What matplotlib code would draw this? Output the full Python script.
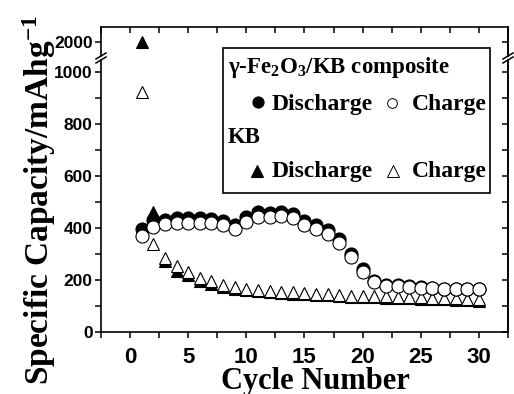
import matplotlib
matplotlib.use('Agg')
import matplotlib.pyplot as plt
from matplotlib.lines import Line2D
from matplotlib.patches import Rectangle
from matplotlib.ticker import MultipleLocator, FixedLocator, NullLocator

plt.rcParams['mathtext.default'] = 'regular'

# data
cycles = [1, 2, 3, 4, 5, 6, 7, 8, 9, 10, 11, 12, 13, 14, 15,
          16, 17, 18, 19, 20, 21, 22, 23, 24, 25, 26, 27, 28, 29, 30]
comp_discharge = [396, 430, 432, 439, 438, 437, 436, 428, 412, 441, 460, 458, 462, 452, 428,
                  411, 391, 356, 300, 243, 198, 180, 179, 176, 173, 170, 166, 166, 166, 166]
comp_charge = [369, 402, 414, 421, 421, 420, 419, 411, 395, 424, 443, 441, 446, 437, 412,
               395, 376, 341, 287, 232, 194, 177, 177, 174, 171, 168, 164, 164, 164, 164]
kb_discharge = [2000, 462, 272, 236, 219, 196, 186, 175, 167, 161, 157, 153, 150, 148, 146,
                143, 141, 138, 135, 134, 133, 132, 131, 130, 128, 127, 126, 125, 123, 121]
kb_charge = [925, 338, 283, 254, 229, 206, 195, 181, 173, 166, 162, 158, 155, 153, 151,
             148, 146, 143, 140, 139, 138, 137, 136, 135, 133, 132, 131, 130, 128, 126]

W, H = 514, 394
serif = ['Liberation Serif', 'DejaVu Serif']
sans = ['Liberation Sans', 'DejaVu Sans']


def fx(px):
    return px / W


def fy(py):
    return 1 - py / H


fig = plt.figure(figsize=(W / 100, H / 100), dpi=100)
left, right = 101, 508
ax = fig.add_axes([fx(left), fy(332), (right - left) / W, (332 - 60) / H])
ax_top = fig.add_axes([fx(left), fy(56), (right - left) / W, (56 - 27) / H], sharex=ax)


def draw(a):
    a.plot(cycles, kb_discharge, ls='none', marker='^', ms=8.6, mfc='black', mec='black', mew=0.8)
    a.plot(cycles, kb_charge, ls='none', marker='^', ms=8.6, mfc='white', mec='black', mew=0.8)
    a.plot(cycles, comp_discharge, ls='none', marker='o', ms=9.4, mfc='black', mec='black', mew=0.8)
    a.plot(cycles, comp_charge, ls='none', marker='o', ms=9.4, mfc='white', mec='black', mew=0.8)


draw(ax)
draw(ax_top)

ax.set_xlim(-2.5, 32.5)
ax.set_ylim(0, (332 - 60) / 0.26)
ax_top.set_ylim(2000 - 14 / 0.26, 2000 + 15 / 0.26)

for a in (ax, ax_top):
    for s in a.spines.values():
        s.set_linewidth(1.2)
ax.spines['top'].set_visible(False)
ax_top.spines['bottom'].set_visible(False)

ax.xaxis.set_major_locator(MultipleLocator(5))
ax.xaxis.set_minor_locator(MultipleLocator(2.5))
ax.yaxis.set_major_locator(MultipleLocator(200))
ax.yaxis.set_minor_locator(MultipleLocator(100))
ax_top.yaxis.set_major_locator(FixedLocator([2000]))
ax_top.yaxis.set_minor_locator(NullLocator())

ax.tick_params(axis='x', which='both', direction='out', length=4, width=1.1,
               top=False, pad=7)
ax.tick_params(axis='y', which='both', direction='out', length=4, width=1.1,
               right=False, pad=2)
ax_top.tick_params(axis='x', which='both', direction='in', length=4, width=1.1,
                   bottom=False, top=True, labelbottom=False)
ax_top.tick_params(axis='y', which='both', direction='out', length=4, width=1.1,
                   right=False, pad=2)

for lab in ax.get_xticklabels():
    lab.set_fontfamily(sans)
    lab.set_fontweight('bold')
    lab.set_fontsize(16)
for a in (ax, ax_top):
    for lab in a.get_yticklabels():
        lab.set_fontfamily(sans)
        lab.set_fontweight('bold')
        lab.set_fontsize(12.5)

# inward ticks on the right side
for a, major in ((ax, MultipleLocator(100)), (ax_top, FixedLocator([2000]))):
    sec = a.secondary_yaxis('right')
    sec.yaxis.set_major_locator(major)
    sec.yaxis.set_minor_locator(NullLocator())
    sec.tick_params(axis='y', direction='in', length=4, width=1.1, labelright=False)
    sec.spines['right'].set_linewidth(1.2)

# break marks
for xb in (left, right):
    for yb in (56, 60):
        fig.add_artist(Line2D([fx(xb - 5), fx(xb + 5)], [fy(yb + 3), fy(yb - 3)],
                              transform=fig.transFigure, color='black', lw=1.1))

# legend box
fig.add_artist(Rectangle((fx(223), fy(193)), (490 - 223) / W, (193 - 48) / H,
                         transform=fig.transFigure, fc='white', ec='black', lw=1.2))
leg_font = dict(fontweight='bold', family=serif, va='baseline')
fig.text(fx(228), fy(73.3), 'γ-Fe$_2$O$_3$/KB composite', fontsize=16.5, **leg_font)
fig.text(fx(228), fy(143.3), 'KB', fontsize=16.5, **leg_font)
for yb in (110, 176.7):
    fig.text(fx(272), fy(yb), 'Discharge', fontsize=17, **leg_font)
    fig.text(fx(412), fy(yb), 'Charge', fontsize=17, **leg_font)

symbols = [('o', 'black', 8.0, 0.8, 257.5, 102),
           ('o', 'white', 7.0, 0.7, 392, 103),
           ('^', 'black', 8.4, 0.8, 256.5, 171),
           ('^', 'white', 8.4, 0.7, 392.5, 171.5)]
for mk, face, size, edge, xc, yc in symbols:
    fig.add_artist(Line2D([fx(xc)], [fy(yc)], transform=fig.transFigure, ls='none',
                          marker=mk, ms=size, mfc=face, mec='black', mew=edge))

fig.text(fx(39), fy(200), 'Specific Capacity/mAhg$^{-1}$', rotation=90, ha='center', va='center',
         fontsize=24, fontweight='bold', family=serif)
fig.text(fx(315), fy(381), 'Cycle Number', ha='center', va='center',
         fontsize=22, fontweight='bold', family=serif)

fig.savefig('out.png', dpi=100)
